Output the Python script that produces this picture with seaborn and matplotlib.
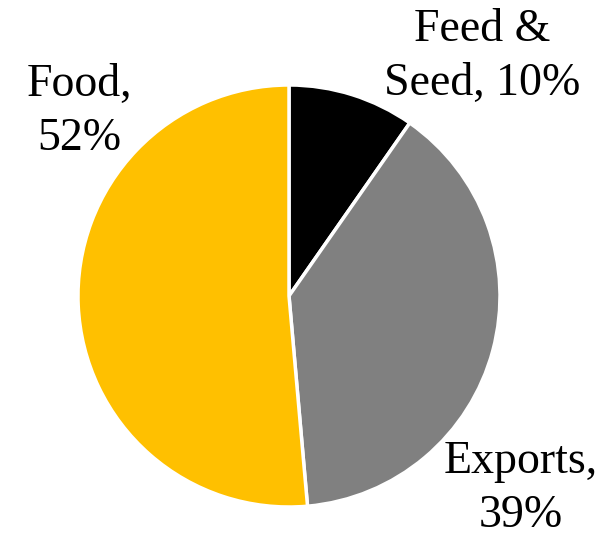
import matplotlib.pyplot as plt
import seaborn as sns

sns.set_theme(style='white')
plt.rcParams['font.family'] = ['Liberation Serif', 'DejaVu Serif']

# slice shares as drawn in the picture, label texts as printed
categories = ['Feed & Seed', 'Exports', 'Food']
shares = [9.7, 38.9, 51.4]
label_texts = ['Feed &\nSeed, 10%', 'Exports,\n39%', 'Food,\n52%']
colors = ['#000000', '#808080', '#FFC000']

W, H = 615, 533
fig = plt.figure(figsize=(W / 100, H / 100), dpi=100)

# pie axes placed so the circle sits where it does in the reference
cx, cy, r = 289, 296, 211
ax = fig.add_axes([(cx - r) / W, (H - cy - r) / H, 2 * r / W, 2 * r / H])
ax.pie(shares, colors=colors, startangle=90, counterclock=False,
       wedgeprops=dict(edgecolor='white', linewidth=2.5), radius=1)
ax.set_xlim(-1, 1)
ax.set_ylim(-1, 1)
ax.set_aspect('equal')
ax.axis('off')

# (x centre, baseline of last line) in pixels
label_pos = {'Feed & Seed': (482, 95), 'Exports': (521, 527), 'Food': (79, 150)}
for cat, txt in zip(categories, label_texts):
    x, y = label_pos[cat]
    fig.text(x / W, 1 - y / H, txt, ha='center', va='baseline', fontsize=33,
             linespacing=1.36, multialignment='center', color='black')

fig.savefig('out.png', dpi=100)
